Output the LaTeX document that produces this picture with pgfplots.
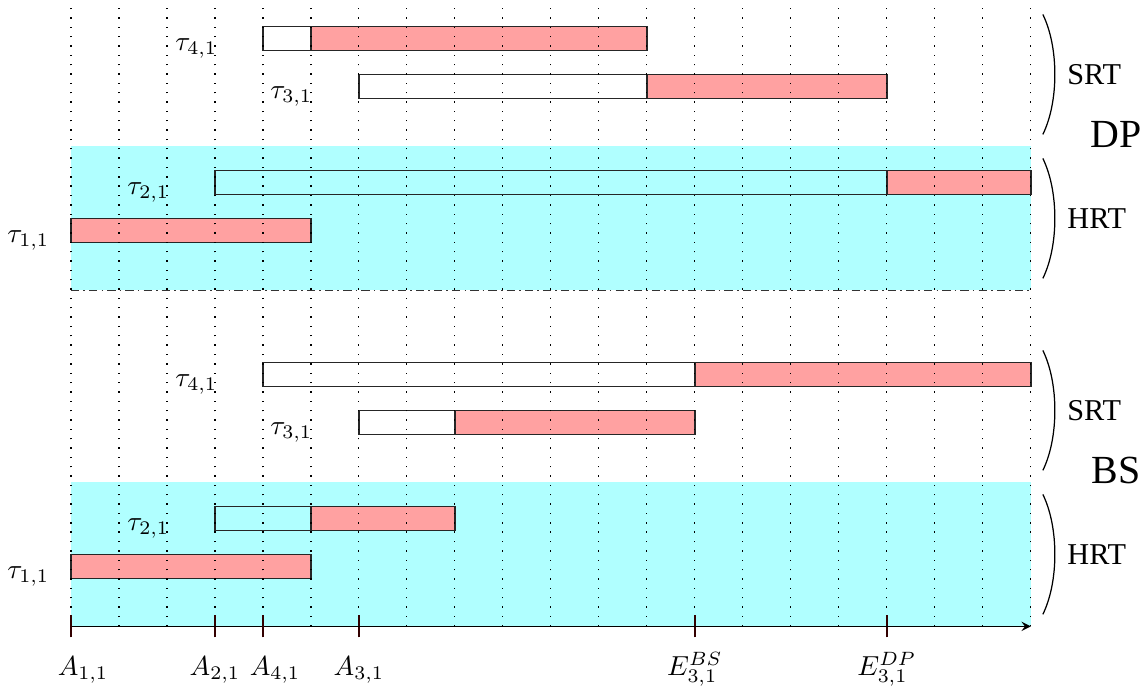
\documentclass[border=0pt]{standalone}
\usepackage{fontspec}
\usepackage{pgfplots}
\pgfplotsset{compat=1.18}
\newfontfamily\tnr{Liberation Serif}
\definecolor{hrtcyan}{rgb}{0.69,1,1}
\definecolor{jobred}{rgb}{1,0.63,0.63}

\begin{document}
\begin{tikzpicture}
\begin{axis}[
    x=17.45pt, y=17.45pt,
    xmin=0, xmax=20, ymin=0, ymax=13.04,
    axis x line=bottom,
    axis y line=none,
    axis on top,
    clip=false,
    x axis line style={line width=0.5pt},
    xtick={3,6,13,17},
    xticklabels={$A_{2,1}\vphantom{E^{BS}_{3,1}}$, $A_{3,1}\vphantom{E^{BS}_{3,1}}$, $E^{BS}_{3,1}$, $E^{DP}_{3,1}$},
    xticklabel style={yshift=-2pt},
    extra x ticks={0,4},
    extra x tick labels={$A_{1,1}\vphantom{E^{BS}_{3,1}}$, $A_{4,1}\vphantom{E^{BS}_{3,1}}$},
    extra x tick style={xticklabel style={xshift=4.4pt}},
    minor xtick={0,...,20},
    xmajorgrids, xminorgrids,
    major grid style={black, dash pattern=on 0.5pt off 2.9pt},
    minor grid style={black, dash pattern=on 0.5pt off 2.9pt},
    tick align=center,
    major tick length=8pt,
    minor tick length=0pt,
    major tick style={black!80!red, line width=0.6pt},
    ytick=\empty,
]
% HRT background bands
\addplot[fill=hrtcyan, draw=none] coordinates {(0,0) (20,0) (20,3) (0,3)} -- cycle;
\addplot[fill=hrtcyan, draw=none] coordinates {(0,7) (20,7) (20,10) (0,10)} -- cycle;
\addplot[black!80, line width=0.6pt, dash pattern=on 3pt off 1.5pt on 0.6pt off 1.5pt] coordinates {(0,7) (20,7)};

% DP
\addplot[draw=black!85, line width=0.5pt, fill=none] coordinates {(4,12) (5,12) (5,12.5) (4,12.5)} -- cycle;
\addplot[draw=black!85, line width=0.5pt, fill=jobred] coordinates {(5,12) (12,12) (12,12.5) (5,12.5)} -- cycle;
\addplot[draw=black!85, line width=0.5pt, fill=none] coordinates {(6,11) (12,11) (12,11.5) (6,11.5)} -- cycle;
\addplot[draw=black!85, line width=0.5pt, fill=jobred] coordinates {(12,11) (17,11) (17,11.5) (12,11.5)} -- cycle;
\addplot[draw=black!85, line width=0.5pt, fill=none] coordinates {(3,9) (17,9) (17,9.5) (3,9.5)} -- cycle;
\addplot[draw=black!85, line width=0.5pt, fill=jobred] coordinates {(17,9) (20,9) (20,9.5) (17,9.5)} -- cycle;
\addplot[draw=black!85, line width=0.5pt, fill=jobred] coordinates {(0,8) (5,8) (5,8.5) (0,8.5)} -- cycle;

% BS
\addplot[draw=black!85, line width=0.5pt, fill=none] coordinates {(4,5) (13,5) (13,5.5) (4,5.5)} -- cycle;
\addplot[draw=black!85, line width=0.5pt, fill=jobred] coordinates {(13,5) (20,5) (20,5.5) (13,5.5)} -- cycle;
\addplot[draw=black!85, line width=0.5pt, fill=none] coordinates {(6,4) (8,4) (8,4.5) (6,4.5)} -- cycle;
\addplot[draw=black!85, line width=0.5pt, fill=jobred] coordinates {(8,4) (13,4) (13,4.5) (8,4.5)} -- cycle;
\addplot[draw=black!85, line width=0.5pt, fill=none] coordinates {(3,2) (5,2) (5,2.5) (3,2.5)} -- cycle;
\addplot[draw=black!85, line width=0.5pt, fill=jobred] coordinates {(5,2) (8,2) (8,2.5) (5,2.5)} -- cycle;
\addplot[draw=black!85, line width=0.5pt, fill=jobred] coordinates {(0,1) (5,1) (5,1.5) (0,1.5)} -- cycle;

% task labels
\foreach \yb/\xl/\t in {12/3.06/4, 11/5.04/3, 9/2.06/2, 8/-0.44/1, 5/3.06/4, 4/5.04/3, 2/2.06/2, 1/-0.44/1}{
    \edef\temp{\noexpand\node[anchor=base east, inner sep=0pt] at (axis cs:\xl,\yb) {$\noexpand\tau_{\t,1}$};}
    \temp
}

% braces and group names
\foreach \ya/\yc in {10.25/12.75, 7.25/9.75, 3.25/5.75, 0.25/2.75}{
    \edef\temp{\noexpand\draw[black, line width=0.45pt] (axis cs:20.25,\yc) .. controls (axis cs:20.42,\yc-0.35) and (axis cs:20.5,\yc-0.8) .. (axis cs:20.5,\yc-1.25) .. controls (axis cs:20.5,\ya+0.8) and (axis cs:20.42,\ya+0.35) .. (axis cs:20.25,\ya);}
    \temp
}
\node[font=\tnr\fontsize{11}{13}\selectfont, anchor=west, inner sep=0pt] at (axis cs:20.75,11.5) {SRT};
\node[font=\tnr\fontsize{11}{13}\selectfont, anchor=west, inner sep=0pt] at (axis cs:20.75,8.5) {HRT};
\node[font=\tnr\fontsize{11}{13}\selectfont, anchor=west, inner sep=0pt] at (axis cs:20.75,4.5) {SRT};
\node[font=\tnr\fontsize{11}{13}\selectfont, anchor=west, inner sep=0pt] at (axis cs:20.75,1.5) {HRT};
\node[font=\tnr\fontsize{14.5}{17}\selectfont, inner sep=0pt] at (axis cs:21.77,10.25) {DP};
\node[font=\tnr\fontsize{14.5}{17}\selectfont, inner sep=0pt] at (axis cs:21.77,3.25) {BS};
\path (axis cs:-1.479,13.04) (axis cs:22.42,-1.29);
\end{axis}
\end{tikzpicture}
\end{document}
